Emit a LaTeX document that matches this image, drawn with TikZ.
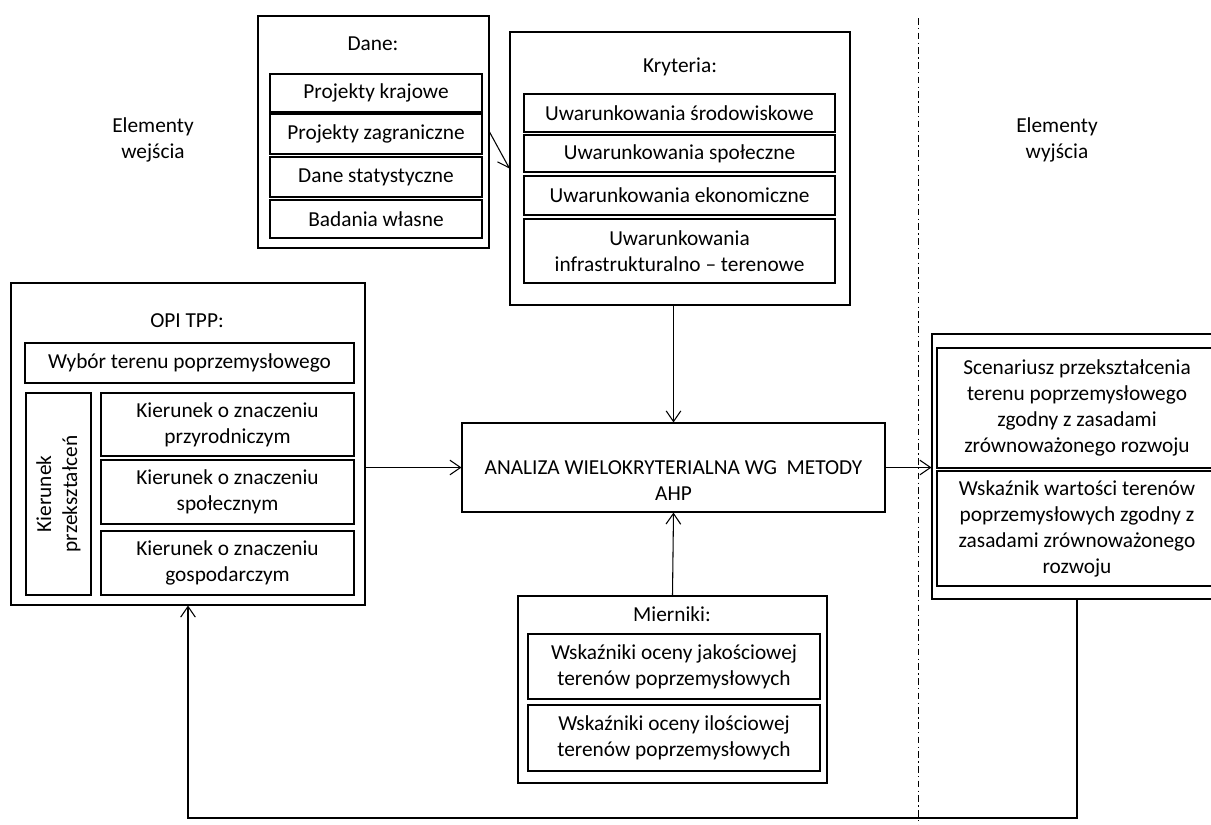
\documentclass[tikz,border=0pt]{standalone}
\usepackage{fontspec}
\setmainfont{Carlito}
\usetikzlibrary{arrows.meta}
\newcommand{\drawbox}[7][]{%
  \pgfmathsetmacro\bxcx{(#3+#5)/2}%
  \pgfmathsetmacro\bxcy{(#4+#6)/2}%
  \pgfmathsetmacro\bxw{(#5-#3)*0.75}%
  \pgfmathsetmacro\bxh{(#6-#4)*0.75}%
  \node[box,minimum width=\bxw pt,minimum height=\bxh pt,#1] (#2) at (\bxcx,\bxcy) {#7};}
\begin{document}
\begin{tikzpicture}[x=0.75pt,y=-0.75pt,
  every node/.style={font=\fontsize{16}{19.5}\selectfont},
  box/.style={draw, line width=0.8pt, inner sep=0pt, align=center},
  lbl/.style={inner sep=0pt, align=center},
  arr/.style={line width=0.8pt, -{Straight Barb[length=8pt,width=11pt,line width=0.8pt]}},
  divider/.style={line width=0.6pt, dash pattern=on 5pt off 2.5pt on 1pt off 2.5pt}]
\useasboundingbox (0,0) rectangle (1211,825);
\fill[white] (0,0) rectangle (1211,825);
\clip (0,0) rectangle (1211,825);

% Dane
\drawbox{dane}{258}{16}{489}{248}{}
\node[lbl] (daneT) at (373,44) {Dane:};
\drawbox{d1}{270}{74}{482}{112}{Projekty krajowe}
\drawbox{d2}{270}{114}{482}{154}{Projekty zagraniczne}
\drawbox{d3}{270}{157}{482}{197}{Dane statystyczne}
\drawbox{d4}{270}{200}{482}{238}{Badania własne}

% Kryteria
\drawbox{kryt}{510}{32}{850}{305}{}
\node[lbl] (krytT) at (680,67) {Kryteria:};
\drawbox{k1}{524}{94}{835}{132}{Uwarunkowania środowiskowe}
\drawbox{k2}{524}{135}{835}{172}{Uwarunkowania społeczne}
\drawbox{k3}{524}{176}{835}{215}{Uwarunkowania ekonomiczne}
\drawbox{k4}{524}{219}{835}{283}{Uwarunkowania\\infrastrukturalno – terenowe}

% Elementy
\node[lbl] (wej) at (153,140) {Elementy\\wejścia};
\node[lbl] (wyj) at (1057,140) {Elementy\\wyjścia};

% OPI TPP
\drawbox{opi}{11}{283}{365}{605}{}
\node[lbl] (opiT) at (187,321) {OPI TPP:};
\drawbox{wyb}{25}{343}{354}{383}{Wybór terenu poprzemysłowego}
\drawbox{kprz}{26}{393}{91}{595}{}
\node[lbl, rotate=90] (kprzT) at (kprz.center) {Kierunek\\przekształceń};
\drawbox{o1}{101}{393}{354}{456}{Kierunek o znaczeniu\\przyrodniczym}
\drawbox{o2}{101}{460}{354}{524}{Kierunek o znaczeniu\\społecznym}
\drawbox{o3}{101}{531}{354}{595}{Kierunek o znaczeniu\\gospodarczym}

% Central
\drawbox{ahp}{462}{423}{885}{512}{}
\node[lbl] (ahpT) at (673.5,481) {ANALIZA WIELOKRYTERIALNA WG\ \ METODY\\AHP};

% Mierniki
\drawbox{mier}{518}{596}{827}{783}{}
\node[lbl] (mierT) at (672,614) {Mierniki:};
\drawbox{m1}{528}{634}{820}{699}{Wskaźniki oceny jakościowej\\terenów poprzemysłowych}
\drawbox{m2}{528}{705}{820}{771}{Wskaźniki oceny ilościowej\\terenów poprzemysłowych}

% Output
\drawbox{out}{932}{334}{1222}{599}{}
\drawbox{w1}{937}{348}{1217}{468}{Scenariusz przekształcenia\\terenu poprzemysłowego\\zgodny z zasadami\\zrównoważonego rozwoju}
\drawbox{w2}{937}{471}{1217}{586}{Wskaźnik wartości terenów\\poprzemysłowych zgodny z\\zasadami zrównoważonego\\rozwoju}

% divider
\coordinate (divT) at (918,18);
\coordinate (divB) at (918,825);
\draw[divider] (divT) -- (divB);

% connectors
\draw[arr] (dane.east) -- (kryt.west);
\draw[arr] (ahp.north |- kryt.south) -- (ahp.north);
\draw[arr] (mier.north) -- (ahp.south);
\draw[arr] (opi.east |- ahp.west) -- (ahp.west);
\draw[arr] (ahp.east) -- (ahp.east -| out.west);
\coordinate (fb) at (0,818);
\draw[arr] (out.south) -- (out.south |- fb) -| (opi.south);
\end{tikzpicture}
\end{document}
